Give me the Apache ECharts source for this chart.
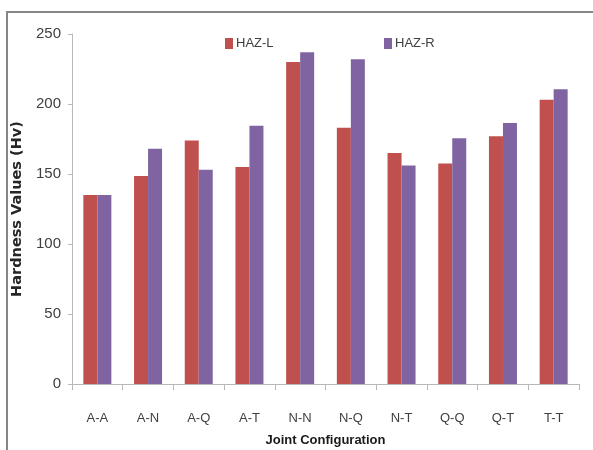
<!DOCTYPE html>
<html>
<head>
<meta charset="utf-8">
<script src="https://cdn.jsdelivr.net/npm/echarts@6/dist/echarts.min.js"></script>
<style>html,body{margin:0;padding:0;background:#fff}#c{width:593px;height:450px}</style>
</head>
<body>
<div id="c"></div>
<script>
const categories = ['A-A','A-N','A-Q','A-T','N-N','N-Q','N-T','Q-Q','Q-T','T-T'];
const hazL = [135,148.5,174,155,230,183,165,157.5,177,203];
const hazR = [135,168,153,184.5,237,232,156,175.5,186.5,210.5];
const yTicks = {min:0, max:250, interval:50};

const chart = echarts.init(document.getElementById('c'), null, {renderer:'canvas'});
const labelFont = {fontFamily:'Liberation Sans', color:'#404040'};
chart.setOption({
  backgroundColor:'#ffffff',
  animation:false,
  graphic:[{type:'rect', shape:{x:7, y:12, width:800, height:800}, style:{fill:'none', stroke:'#868686', lineWidth:2}, silent:true}],
  legend:[
    {left:220, top:32, itemWidth:8, itemHeight:11, itemGap:4, icon:'rect', data:['HAZ-L'], textStyle:Object.assign({fontSize:13, padding:[0,0,0,-2]}, labelFont)},
    {left:379, top:32, itemWidth:8, itemHeight:11, itemGap:4, icon:'rect', data:['HAZ-R'], textStyle:Object.assign({fontSize:13, padding:[0,0,0,-2]}, labelFont)}
  ],
  grid:{left:72, right:14, top:34, bottom:66, containLabel:false, outerBoundsMode:'none'},
  xAxis:{
    type:'category', data:categories,
    name:'Joint Configuration', nameLocation:'middle', nameGap:50,
    nameTextStyle:{fontFamily:'Liberation Sans', fontWeight:'bold', fontSize:13, color:'#1a1a1a'},
    axisLine:{lineStyle:{color:'#b8b8b8', width:1}},
    axisTick:{show:true, length:6, alignWithLabel:false, lineStyle:{color:'#b8b8b8'}},
    axisLabel:Object.assign({fontSize:13, margin:28}, labelFont),
    splitLine:{show:false}
  },
  yAxis:{
    type:'value', min:yTicks.min, max:yTicks.max, interval:yTicks.interval,
    name:'Hardness Values (Hv)', nameLocation:'middle', nameGap:35, nameRotate:90,
    nameTextStyle:{fontFamily:'DejaVu Sans', fontWeight:'bold', fontSize:14.5, color:'#262626'},
    axisLine:{show:true, lineStyle:{color:'#b8b8b8', width:1}},
    axisTick:{show:true, length:4, lineStyle:{color:'#b8b8b8'}},
    axisLabel:Object.assign({fontSize:15, margin:11}, labelFont),
    splitLine:{show:false}
  },
  series:[
    {name:'HAZ-L', type:'bar', data:hazL, barWidth:14, barGap:'0%', itemStyle:{color:'#C0504D'}},
    {name:'HAZ-R', type:'bar', data:hazR, barWidth:14, barGap:'0%', itemStyle:{color:'#8064A2'}}
  ]
});
</script>
</body>
</html>
